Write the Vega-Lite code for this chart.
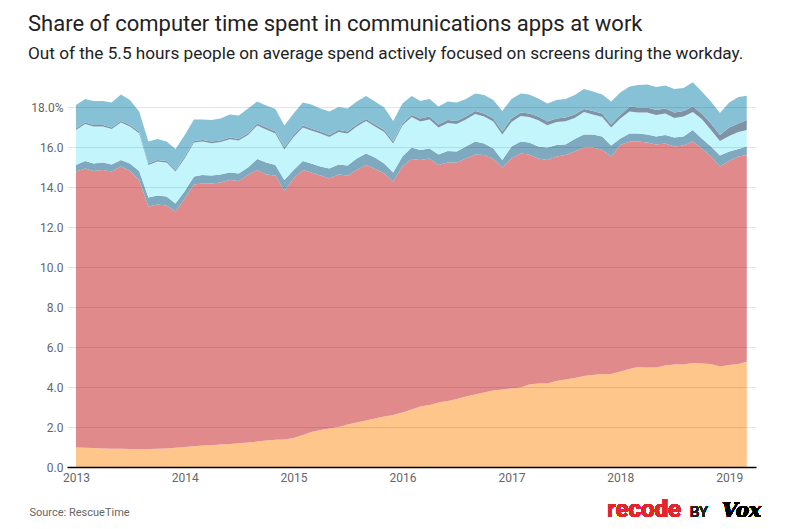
{
  "$schema": "https://vega.github.io/schema/vega-lite/v6.json",
  "width": 689,
  "height": 384,
  "autosize": "none",
  "padding": {"left": 67, "top": 83, "right": 34, "bottom": 62},
  "background": "white",
  "title": {
    "text": "Share of computer time spent in communications apps at work",
    "subtitle": "Out of the 5.5 hours people on average spend actively focused on screens during the workday.",
    "anchor": "start",
    "frame": "group",
    "dx": -39,
    "offset": 19,
    "font": "Roboto",
    "fontSize": 22,
    "fontWeight": "normal",
    "color": "#222222",
    "subtitleFont": "Roboto",
    "subtitleFontSize": 17.2,
    "subtitleColor": "#222222",
    "subtitlePadding": 9
  },
  "config": {"view": {"stroke": null}},
  "data": {
    "values": [
      {"d":"2013-01","s":"s1","v":0.97},{"d":"2013-01","s":"s2","v":13.80},{"d":"2013-01","s":"s3","v":0.33},{"d":"2013-01","s":"s4","v":1.75},{"d":"2013-01","s":"s5","v":0.08},{"d":"2013-01","s":"s6","v":1.17},
      {"d":"2013-02","s":"s1","v":0.96},{"d":"2013-02","s":"s2","v":13.97},{"d":"2013-02","s":"s3","v":0.37},{"d":"2013-02","s":"s4","v":1.85},{"d":"2013-02","s":"s5","v":0.08},{"d":"2013-02","s":"s6","v":1.17},
      {"d":"2013-03","s":"s1","v":0.95},{"d":"2013-03","s":"s2","v":13.85},{"d":"2013-03","s":"s3","v":0.38},{"d":"2013-03","s":"s4","v":1.84},{"d":"2013-03","s":"s5","v":0.08},{"d":"2013-03","s":"s6","v":1.20},
      {"d":"2013-04","s":"s1","v":0.93},{"d":"2013-04","s":"s2","v":13.92},{"d":"2013-04","s":"s3","v":0.38},{"d":"2013-04","s":"s4","v":1.79},{"d":"2013-04","s":"s5","v":0.08},{"d":"2013-04","s":"s6","v":1.20},
      {"d":"2013-05","s":"s1","v":0.91},{"d":"2013-05","s":"s2","v":13.86},{"d":"2013-05","s":"s3","v":0.36},{"d":"2013-05","s":"s4","v":1.77},{"d":"2013-05","s":"s5","v":0.08},{"d":"2013-05","s":"s6","v":1.25},
      {"d":"2013-06","s":"s1","v":0.91},{"d":"2013-06","s":"s2","v":14.11},{"d":"2013-06","s":"s3","v":0.33},{"d":"2013-06","s":"s4","v":1.87},{"d":"2013-06","s":"s5","v":0.08},{"d":"2013-06","s":"s6","v":1.33},
      {"d":"2013-07","s":"s1","v":0.90},{"d":"2013-07","s":"s2","v":13.90},{"d":"2013-07","s":"s3","v":0.38},{"d":"2013-07","s":"s4","v":1.84},{"d":"2013-07","s":"s5","v":0.08},{"d":"2013-07","s":"s6","v":1.25},
      {"d":"2013-08","s":"s1","v":0.90},{"d":"2013-08","s":"s2","v":13.45},{"d":"2013-08","s":"s3","v":0.45},{"d":"2013-08","s":"s4","v":1.89},{"d":"2013-08","s":"s5","v":0.08},{"d":"2013-08","s":"s6","v":1.00},
      {"d":"2013-09","s":"s1","v":0.90},{"d":"2013-09","s":"s2","v":12.12},{"d":"2013-09","s":"s3","v":0.45},{"d":"2013-09","s":"s4","v":1.63},{"d":"2013-09","s":"s5","v":0.08},{"d":"2013-09","s":"s6","v":1.09},
      {"d":"2013-10","s":"s1","v":0.91},{"d":"2013-10","s":"s2","v":12.22},{"d":"2013-10","s":"s3","v":0.44},{"d":"2013-10","s":"s4","v":1.70},{"d":"2013-10","s":"s5","v":0.08},{"d":"2013-10","s":"s6","v":1.05},
      {"d":"2013-11","s":"s1","v":0.93},{"d":"2013-11","s":"s2","v":12.14},{"d":"2013-11","s":"s3","v":0.45},{"d":"2013-11","s":"s4","v":1.70},{"d":"2013-11","s":"s5","v":0.08},{"d":"2013-11","s":"s6","v":0.97},
      {"d":"2013-12","s":"s1","v":0.96},{"d":"2013-12","s":"s2","v":11.81},{"d":"2013-12","s":"s3","v":0.41},{"d":"2013-12","s":"s4","v":1.59},{"d":"2013-12","s":"s5","v":0.08},{"d":"2013-12","s":"s6","v":1.05},
      {"d":"2014-01","s":"s1","v":1.00},{"d":"2014-01","s":"s2","v":12.43},{"d":"2014-01","s":"s3","v":0.37},{"d":"2014-01","s":"s4","v":1.64},{"d":"2014-01","s":"s5","v":0.08},{"d":"2014-01","s":"s6","v":1.08},
      {"d":"2014-02","s":"s1","v":1.04},{"d":"2014-02","s":"s2","v":13.09},{"d":"2014-02","s":"s3","v":0.39},{"d":"2014-02","s":"s4","v":1.70},{"d":"2014-02","s":"s5","v":0.08},{"d":"2014-02","s":"s6","v":1.08},
      {"d":"2014-03","s":"s1","v":1.07},{"d":"2014-03","s":"s2","v":13.11},{"d":"2014-03","s":"s3","v":0.42},{"d":"2014-03","s":"s4","v":1.67},{"d":"2014-03","s":"s5","v":0.08},{"d":"2014-03","s":"s6","v":1.03},
      {"d":"2014-04","s":"s1","v":1.09},{"d":"2014-04","s":"s2","v":13.09},{"d":"2014-04","s":"s3","v":0.39},{"d":"2014-04","s":"s4","v":1.62},{"d":"2014-04","s":"s5","v":0.08},{"d":"2014-04","s":"s6","v":1.08},
      {"d":"2014-05","s":"s1","v":1.12},{"d":"2014-05","s":"s2","v":13.11},{"d":"2014-05","s":"s3","v":0.40},{"d":"2014-05","s":"s4","v":1.62},{"d":"2014-05","s":"s5","v":0.08},{"d":"2014-05","s":"s6","v":1.10},
      {"d":"2014-06","s":"s1","v":1.15},{"d":"2014-06","s":"s2","v":13.20},{"d":"2014-06","s":"s3","v":0.38},{"d":"2014-06","s":"s4","v":1.66},{"d":"2014-06","s":"s5","v":0.08},{"d":"2014-06","s":"s6","v":1.16},
      {"d":"2014-07","s":"s1","v":1.19},{"d":"2014-07","s":"s2","v":13.11},{"d":"2014-07","s":"s3","v":0.38},{"d":"2014-07","s":"s4","v":1.64},{"d":"2014-07","s":"s5","v":0.08},{"d":"2014-07","s":"s6","v":1.17},
      {"d":"2014-08","s":"s1","v":1.23},{"d":"2014-08","s":"s2","v":13.37},{"d":"2014-08","s":"s3","v":0.37},{"d":"2014-08","s":"s4","v":1.63},{"d":"2014-08","s":"s5","v":0.08},{"d":"2014-08","s":"s6","v":1.25},
      {"d":"2014-09","s":"s1","v":1.27},{"d":"2014-09","s":"s2","v":13.58},{"d":"2014-09","s":"s3","v":0.55},{"d":"2014-09","s":"s4","v":1.68},{"d":"2014-09","s":"s5","v":0.10},{"d":"2014-09","s":"s6","v":1.09},
      {"d":"2014-10","s":"s1","v":1.32},{"d":"2014-10","s":"s2","v":13.31},{"d":"2014-10","s":"s3","v":0.60},{"d":"2014-10","s":"s4","v":1.64},{"d":"2014-10","s":"s5","v":0.10},{"d":"2014-10","s":"s6","v":1.10},
      {"d":"2014-11","s":"s1","v":1.36},{"d":"2014-11","s":"s2","v":13.21},{"d":"2014-11","s":"s3","v":0.53},{"d":"2014-11","s":"s4","v":1.57},{"d":"2014-11","s":"s5","v":0.10},{"d":"2014-11","s":"s6","v":1.13},
      {"d":"2014-12","s":"s1","v":1.38},{"d":"2014-12","s":"s2","v":12.42},{"d":"2014-12","s":"s3","v":0.55},{"d":"2014-12","s":"s4","v":1.52},{"d":"2014-12","s":"s5","v":0.10},{"d":"2014-12","s":"s6","v":1.10},
      {"d":"2015-01","s":"s1","v":1.45},{"d":"2015-01","s":"s2","v":12.98},{"d":"2015-01","s":"s3","v":0.42},{"d":"2015-01","s":"s4","v":1.65},{"d":"2015-01","s":"s5","v":0.10},{"d":"2015-01","s":"s6","v":1.08},
      {"d":"2015-02","s":"s1","v":1.60},{"d":"2015-02","s":"s2","v":13.25},{"d":"2015-02","s":"s3","v":0.45},{"d":"2015-02","s":"s4","v":1.67},{"d":"2015-02","s":"s5","v":0.10},{"d":"2015-02","s":"s6","v":1.16},
      {"d":"2015-03","s":"s1","v":1.75},{"d":"2015-03","s":"s2","v":12.98},{"d":"2015-03","s":"s3","v":0.45},{"d":"2015-03","s":"s4","v":1.65},{"d":"2015-03","s":"s5","v":0.10},{"d":"2015-03","s":"s6","v":1.20},
      {"d":"2015-04","s":"s1","v":1.85},{"d":"2015-04","s":"s2","v":12.72},{"d":"2015-04","s":"s3","v":0.45},{"d":"2015-04","s":"s4","v":1.65},{"d":"2015-04","s":"s5","v":0.10},{"d":"2015-04","s":"s6","v":1.16},
      {"d":"2015-05","s":"s1","v":1.93},{"d":"2015-05","s":"s2","v":12.50},{"d":"2015-05","s":"s3","v":0.50},{"d":"2015-05","s":"s4","v":1.57},{"d":"2015-05","s":"s5","v":0.10},{"d":"2015-05","s":"s6","v":1.17},
      {"d":"2015-06","s":"s1","v":2.00},{"d":"2015-06","s":"s2","v":12.63},{"d":"2015-06","s":"s3","v":0.50},{"d":"2015-06","s":"s4","v":1.62},{"d":"2015-06","s":"s5","v":0.10},{"d":"2015-06","s":"s6","v":1.15},
      {"d":"2015-07","s":"s1","v":2.12},{"d":"2015-07","s":"s2","v":12.45},{"d":"2015-07","s":"s3","v":0.50},{"d":"2015-07","s":"s4","v":1.60},{"d":"2015-07","s":"s5","v":0.10},{"d":"2015-07","s":"s6","v":1.16},
      {"d":"2015-08","s":"s1","v":2.22},{"d":"2015-08","s":"s2","v":12.63},{"d":"2015-08","s":"s3","v":0.58},{"d":"2015-08","s":"s4","v":1.60},{"d":"2015-08","s":"s5","v":0.10},{"d":"2015-08","s":"s6","v":1.14},
      {"d":"2015-09","s":"s1","v":2.33},{"d":"2015-09","s":"s2","v":12.77},{"d":"2015-09","s":"s3","v":0.58},{"d":"2015-09","s":"s4","v":1.62},{"d":"2015-09","s":"s5","v":0.10},{"d":"2015-09","s":"s6","v":1.15},
      {"d":"2015-10","s":"s1","v":2.43},{"d":"2015-10","s":"s2","v":12.47},{"d":"2015-10","s":"s3","v":0.57},{"d":"2015-10","s":"s4","v":1.56},{"d":"2015-10","s":"s5","v":0.10},{"d":"2015-10","s":"s6","v":1.14},
      {"d":"2015-11","s":"s1","v":2.52},{"d":"2015-11","s":"s2","v":12.16},{"d":"2015-11","s":"s3","v":0.50},{"d":"2015-11","s":"s4","v":1.57},{"d":"2015-11","s":"s5","v":0.10},{"d":"2015-11","s":"s6","v":1.12},
      {"d":"2015-12","s":"s1","v":2.60},{"d":"2015-12","s":"s2","v":11.67},{"d":"2015-12","s":"s3","v":0.46},{"d":"2015-12","s":"s4","v":1.44},{"d":"2015-12","s":"s5","v":0.10},{"d":"2015-12","s":"s6","v":1.03},
      {"d":"2016-01","s":"s1","v":2.72},{"d":"2016-01","s":"s2","v":12.30},{"d":"2016-01","s":"s3","v":0.50},{"d":"2016-01","s":"s4","v":1.56},{"d":"2016-01","s":"s5","v":0.10},{"d":"2016-01","s":"s6","v":1.00},
      {"d":"2016-02","s":"s1","v":2.87},{"d":"2016-02","s":"s2","v":12.53},{"d":"2016-02","s":"s3","v":0.57},{"d":"2016-02","s":"s4","v":1.53},{"d":"2016-02","s":"s5","v":0.10},{"d":"2016-02","s":"s6","v":0.95},
      {"d":"2016-03","s":"s1","v":3.03},{"d":"2016-03","s":"s2","v":12.32},{"d":"2016-03","s":"s3","v":0.50},{"d":"2016-03","s":"s4","v":1.43},{"d":"2016-03","s":"s5","v":0.15},{"d":"2016-03","s":"s6","v":0.87},
      {"d":"2016-04","s":"s1","v":3.10},{"d":"2016-04","s":"s2","v":12.33},{"d":"2016-04","s":"s3","v":0.50},{"d":"2016-04","s":"s4","v":1.44},{"d":"2016-04","s":"s5","v":0.15},{"d":"2016-04","s":"s6","v":0.88},
      {"d":"2016-05","s":"s1","v":3.22},{"d":"2016-05","s":"s2","v":11.88},{"d":"2016-05","s":"s3","v":0.53},{"d":"2016-05","s":"s4","v":1.35},{"d":"2016-05","s":"s5","v":0.15},{"d":"2016-05","s":"s6","v":0.89},
      {"d":"2016-06","s":"s1","v":3.30},{"d":"2016-06","s":"s2","v":11.93},{"d":"2016-06","s":"s3","v":0.57},{"d":"2016-06","s":"s4","v":1.40},{"d":"2016-06","s":"s5","v":0.15},{"d":"2016-06","s":"s6","v":0.92},
      {"d":"2016-07","s":"s1","v":3.40},{"d":"2016-07","s":"s2","v":11.83},{"d":"2016-07","s":"s3","v":0.54},{"d":"2016-07","s":"s4","v":1.38},{"d":"2016-07","s":"s5","v":0.15},{"d":"2016-07","s":"s6","v":0.93},
      {"d":"2016-08","s":"s1","v":3.52},{"d":"2016-08","s":"s2","v":11.91},{"d":"2016-08","s":"s3","v":0.59},{"d":"2016-08","s":"s4","v":1.35},{"d":"2016-08","s":"s5","v":0.15},{"d":"2016-08","s":"s6","v":0.88},
      {"d":"2016-09","s":"s1","v":3.62},{"d":"2016-09","s":"s2","v":12.01},{"d":"2016-09","s":"s3","v":0.64},{"d":"2016-09","s":"s4","v":1.38},{"d":"2016-09","s":"s5","v":0.15},{"d":"2016-09","s":"s6","v":0.88},
      {"d":"2016-10","s":"s1","v":3.72},{"d":"2016-10","s":"s2","v":11.88},{"d":"2016-10","s":"s3","v":0.58},{"d":"2016-10","s":"s4","v":1.35},{"d":"2016-10","s":"s5","v":0.15},{"d":"2016-10","s":"s6","v":0.92},
      {"d":"2016-11","s":"s1","v":3.82},{"d":"2016-11","s":"s2","v":11.58},{"d":"2016-11","s":"s3","v":0.53},{"d":"2016-11","s":"s4","v":1.35},{"d":"2016-11","s":"s5","v":0.15},{"d":"2016-11","s":"s6","v":0.92},
      {"d":"2016-12","s":"s1","v":3.88},{"d":"2016-12","s":"s2","v":11.09},{"d":"2016-12","s":"s3","v":0.38},{"d":"2016-12","s":"s4","v":1.27},{"d":"2016-12","s":"s5","v":0.15},{"d":"2016-12","s":"s6","v":1.03},
      {"d":"2017-01","s":"s1","v":3.93},{"d":"2017-01","s":"s2","v":11.50},{"d":"2017-01","s":"s3","v":0.59},{"d":"2017-01","s":"s4","v":1.23},{"d":"2017-01","s":"s5","v":0.18},{"d":"2017-01","s":"s6","v":0.97},
      {"d":"2017-02","s":"s1","v":3.97},{"d":"2017-02","s":"s2","v":11.71},{"d":"2017-02","s":"s3","v":0.59},{"d":"2017-02","s":"s4","v":1.28},{"d":"2017-02","s":"s5","v":0.18},{"d":"2017-02","s":"s6","v":0.95},
      {"d":"2017-03","s":"s1","v":4.12},{"d":"2017-03","s":"s2","v":11.51},{"d":"2017-03","s":"s3","v":0.60},{"d":"2017-03","s":"s4","v":1.27},{"d":"2017-03","s":"s5","v":0.18},{"d":"2017-03","s":"s6","v":0.95},
      {"d":"2017-04","s":"s1","v":4.17},{"d":"2017-04","s":"s2","v":11.26},{"d":"2017-04","s":"s3","v":0.59},{"d":"2017-04","s":"s4","v":1.32},{"d":"2017-04","s":"s5","v":0.18},{"d":"2017-04","s":"s6","v":0.91},
      {"d":"2017-05","s":"s1","v":4.17},{"d":"2017-05","s":"s2","v":11.18},{"d":"2017-05","s":"s3","v":0.62},{"d":"2017-05","s":"s4","v":1.12},{"d":"2017-05","s":"s5","v":0.18},{"d":"2017-05","s":"s6","v":0.91},
      {"d":"2017-06","s":"s1","v":4.30},{"d":"2017-06","s":"s2","v":11.22},{"d":"2017-06","s":"s3","v":0.58},{"d":"2017-06","s":"s4","v":1.15},{"d":"2017-06","s":"s5","v":0.18},{"d":"2017-06","s":"s6","v":0.92},
      {"d":"2017-07","s":"s1","v":4.38},{"d":"2017-07","s":"s2","v":11.22},{"d":"2017-07","s":"s3","v":0.53},{"d":"2017-07","s":"s4","v":1.16},{"d":"2017-07","s":"s5","v":0.18},{"d":"2017-07","s":"s6","v":0.93},
      {"d":"2017-08","s":"s1","v":4.45},{"d":"2017-08","s":"s2","v":11.32},{"d":"2017-08","s":"s3","v":0.63},{"d":"2017-08","s":"s4","v":1.05},{"d":"2017-08","s":"s5","v":0.18},{"d":"2017-08","s":"s6","v":0.97},
      {"d":"2017-09","s":"s1","v":4.55},{"d":"2017-09","s":"s2","v":11.42},{"d":"2017-09","s":"s3","v":0.66},{"d":"2017-09","s":"s4","v":1.12},{"d":"2017-09","s":"s5","v":0.15},{"d":"2017-09","s":"s6","v":1.00},
      {"d":"2017-10","s":"s1","v":4.60},{"d":"2017-10","s":"s2","v":11.37},{"d":"2017-10","s":"s3","v":0.66},{"d":"2017-10","s":"s4","v":0.99},{"d":"2017-10","s":"s5","v":0.18},{"d":"2017-10","s":"s6","v":0.97},
      {"d":"2017-11","s":"s1","v":4.65},{"d":"2017-11","s":"s2","v":11.20},{"d":"2017-11","s":"s3","v":0.67},{"d":"2017-11","s":"s4","v":0.98},{"d":"2017-11","s":"s5","v":0.18},{"d":"2017-11","s":"s6","v":0.95},
      {"d":"2017-12","s":"s1","v":4.65},{"d":"2017-12","s":"s2","v":10.87},{"d":"2017-12","s":"s3","v":0.55},{"d":"2017-12","s":"s4","v":0.91},{"d":"2017-12","s":"s5","v":0.15},{"d":"2017-12","s":"s6","v":1.14},
      {"d":"2018-01","s":"s1","v":4.78},{"d":"2018-01","s":"s2","v":11.32},{"d":"2018-01","s":"s3","v":0.33},{"d":"2018-01","s":"s4","v":0.99},{"d":"2018-01","s":"s5","v":0.18},{"d":"2018-01","s":"s6","v":1.13},
      {"d":"2018-02","s":"s1","v":4.90},{"d":"2018-02","s":"s2","v":11.37},{"d":"2018-02","s":"s3","v":0.41},{"d":"2018-02","s":"s4","v":1.10},{"d":"2018-02","s":"s5","v":0.24},{"d":"2018-02","s":"s6","v":1.00},
      {"d":"2018-03","s":"s1","v":5.00},{"d":"2018-03","s":"s2","v":11.27},{"d":"2018-03","s":"s3","v":0.41},{"d":"2018-03","s":"s4","v":1.05},{"d":"2018-03","s":"s5","v":0.24},{"d":"2018-03","s":"s6","v":1.13},
      {"d":"2018-04","s":"s1","v":4.98},{"d":"2018-04","s":"s2","v":11.25},{"d":"2018-04","s":"s3","v":0.40},{"d":"2018-04","s":"s4","v":1.10},{"d":"2018-04","s":"s5","v":0.24},{"d":"2018-04","s":"s6","v":1.15},
      {"d":"2018-05","s":"s1","v":4.97},{"d":"2018-05","s":"s2","v":11.16},{"d":"2018-05","s":"s3","v":0.39},{"d":"2018-05","s":"s4","v":1.08},{"d":"2018-05","s":"s5","v":0.25},{"d":"2018-05","s":"s6","v":1.15},
      {"d":"2018-06","s":"s1","v":5.08},{"d":"2018-06","s":"s2","v":11.10},{"d":"2018-06","s":"s3","v":0.42},{"d":"2018-06","s":"s4","v":1.08},{"d":"2018-06","s":"s5","v":0.25},{"d":"2018-06","s":"s6","v":1.15},
      {"d":"2018-07","s":"s1","v":5.12},{"d":"2018-07","s":"s2","v":10.90},{"d":"2018-07","s":"s3","v":0.45},{"d":"2018-07","s":"s4","v":0.98},{"d":"2018-07","s":"s5","v":0.28},{"d":"2018-07","s":"s6","v":1.17},
      {"d":"2018-08","s":"s1","v":5.12},{"d":"2018-08","s":"s2","v":10.95},{"d":"2018-08","s":"s3","v":0.45},{"d":"2018-08","s":"s4","v":1.00},{"d":"2018-08","s":"s5","v":0.28},{"d":"2018-08","s":"s6","v":1.15},
      {"d":"2018-09","s":"s1","v":5.20},{"d":"2018-09","s":"s2","v":11.07},{"d":"2018-09","s":"s3","v":0.58},{"d":"2018-09","s":"s4","v":0.90},{"d":"2018-09","s":"s5","v":0.27},{"d":"2018-09","s":"s6","v":1.22},
      {"d":"2018-10","s":"s1","v":5.18},{"d":"2018-10","s":"s2","v":10.75},{"d":"2018-10","s":"s3","v":0.50},{"d":"2018-10","s":"s4","v":0.97},{"d":"2018-10","s":"s5","v":0.28},{"d":"2018-10","s":"s6","v":1.10},
      {"d":"2018-11","s":"s1","v":5.15},{"d":"2018-11","s":"s2","v":10.37},{"d":"2018-11","s":"s3","v":0.50},{"d":"2018-11","s":"s4","v":0.83},{"d":"2018-11","s":"s5","v":0.33},{"d":"2018-11","s":"s6","v":1.10},
      {"d":"2018-12","s":"s1","v":5.03},{"d":"2018-12","s":"s2","v":9.99},{"d":"2018-12","s":"s3","v":0.55},{"d":"2018-12","s":"s4","v":0.73},{"d":"2018-12","s":"s5","v":0.30},{"d":"2018-12","s":"s6","v":1.10},
      {"d":"2019-01","s":"s1","v":5.10},{"d":"2019-01","s":"s2","v":10.20},{"d":"2019-01","s":"s3","v":0.47},{"d":"2019-01","s":"s4","v":0.78},{"d":"2019-01","s":"s5","v":0.42},{"d":"2019-01","s":"s6","v":1.25},
      {"d":"2019-02","s":"s1","v":5.15},{"d":"2019-02","s":"s2","v":10.37},{"d":"2019-02","s":"s3","v":0.38},{"d":"2019-02","s":"s4","v":0.85},{"d":"2019-02","s":"s5","v":0.43},{"d":"2019-02","s":"s6","v":1.32},
      {"d":"2019-03","s":"s1","v":5.26},{"d":"2019-03","s":"s2","v":10.34},{"d":"2019-03","s":"s3","v":0.42},{"d":"2019-03","s":"s4","v":0.83},{"d":"2019-03","s":"s5","v":0.50},{"d":"2019-03","s":"s6","v":1.21}
    ]
  },
  "layer": [
    {
      "mark": {"type": "area", "interpolate": "linear"},
      "encoding": {
        "x": {
          "field": "d",
          "type": "temporal",
          "scale": {
            "type": "utc",
            "domain": [
              {"year": 2012, "month": 12, "date": 2, "utc": true},
              {"year": 2019, "month": 4, "date": 1, "utc": true}
            ]
          },
          "axis": {
            "values": [
              {"year": 2013, "month": 1, "date": 1, "utc": true},
              {"year": 2014, "month": 1, "date": 1, "utc": true},
              {"year": 2015, "month": 1, "date": 1, "utc": true},
              {"year": 2016, "month": 1, "date": 1, "utc": true},
              {"year": 2017, "month": 1, "date": 1, "utc": true},
              {"year": 2018, "month": 1, "date": 1, "utc": true},
              {"year": 2019, "month": 1, "date": 1, "utc": true}
            ],
            "format": "%Y",
            "formatType": "utc",
            "grid": false,
            "ticks": false,
            "zindex": 1,
            "domainColor": "#000000",
            "domainWidth": 1.5,
            "labelFont": "Roboto",
            "labelFontSize": 12,
            "labelColor": "#666666",
            "labelPadding": 5,
            "labelFlush": false,
            "title": "Source: RescueTime",
            "titleFont": "Roboto",
            "titleFontSize": 11,
            "titleFontWeight": "normal",
            "titleColor": "#666666",
            "titleAnchor": "start",
            "titleAlign": "left",
            "titleBaseline": "alphabetic",
            "titleX": -38,
            "titleY": 48
          }
        },
        "y": {
          "field": "v",
          "type": "quantitative",
          "stack": "zero",
          "scale": {"domain": [0, 19.2], "nice": false},
          "axis": {
            "values": [0, 2, 4, 6, 8, 10, 12, 14, 16, 18],
            "labelExpr": "datum.value == 18 ? format(datum.value, '.1f') + '%' : format(datum.value, '.1f')",
            "domain": false,
            "ticks": false,
            "zindex": 1,
            "gridColor": "#000000",
            "gridOpacity": 0.1,
            "labelFont": "Roboto",
            "labelFontSize": 12,
            "labelColor": "#666666",
            "labelPadding": 4,
            "title": null
          }
        },
        "color": {
          "field": "s",
          "type": "nominal",
          "legend": null,
          "scale": {
            "domain": ["s1", "s2", "s3", "s4", "s5", "s6"],
            "range": ["#FEC68B", "#E08A8C", "#7FA9BE", "#C3F6FC", "#8093A6", "#87C1D6"]
          }
        },
        "order": {"field": "s", "type": "nominal", "sort": "ascending"}
      }
    },
    {
      "mark": {"type": "text", "text": "recode", "font": "Roboto", "fontSize": 24, "fontWeight": "bold", "color": "#E3262B", "align": "left", "baseline": "alphabetic"},
      "encoding": {
        "x": {"datum": {"year": 2017, "month": 11, "date": 17, "utc": true}, "type": "temporal"},
        "y": {"datum": -2.5, "type": "quantitative"}
      }
    },
    {
      "mark": {"type": "text", "text": "BY", "font": "Roboto", "fontSize": 15, "color": "#222222", "align": "left", "baseline": "alphabetic"},
      "encoding": {
        "x": {"datum": {"year": 2018, "month": 8, "date": 23, "utc": true}, "type": "temporal"},
        "y": {"datum": -2.5, "type": "quantitative"}
      }
    },
    {
      "mark": {"type": "text", "text": "Vox", "font": "DejaVu Serif", "fontSize": 20, "fontWeight": "bold", "fontStyle": "italic", "color": "#000000", "align": "left", "baseline": "alphabetic"},
      "encoding": {
        "x": {"datum": {"year": 2018, "month": 12, "date": 8, "utc": true}, "type": "temporal"},
        "y": {"datum": -2.5, "type": "quantitative"}
      }
    }
  ]
}
